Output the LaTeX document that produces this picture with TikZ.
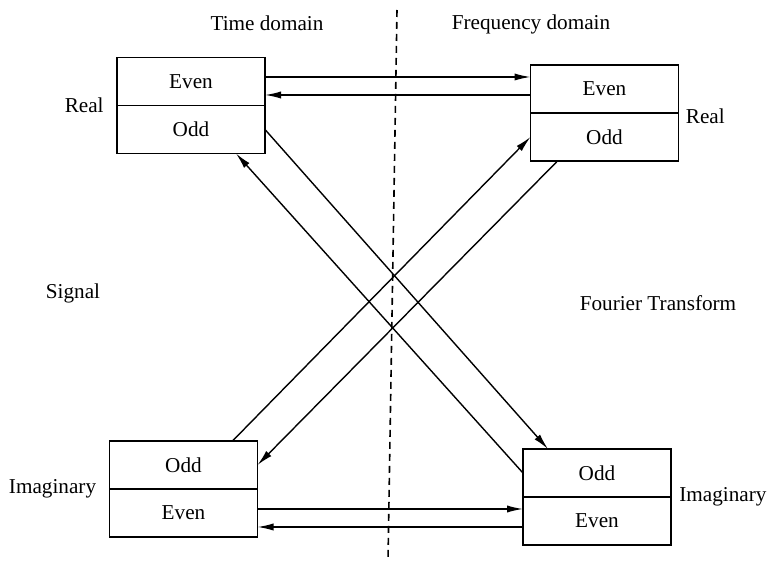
\documentclass[tikz,border=0pt]{standalone}
\usepackage{fontspec}
\setmainfont{Liberation Serif}
\usetikzlibrary{positioning,arrows.meta}

\tikzset{
  cell/.style={draw, line width=0.7pt, minimum width=74pt, minimum height=24pt,
    inner sep=0pt, outer sep=0pt},
  lbl/.style={inner sep=0pt},
  arr/.style={line width=0.7pt, -{Latex[length=8pt,width=3.6pt]}},
  divider/.style={line width=0.8pt, dash pattern=on 3.5pt off 2.5pt}
}

\begin{document}
\begin{tikzpicture}[x=0.5pt, y=-0.5pt, font=\fontsize{10.6}{12.7}\selectfont]
    \useasboundingbox (0,0) rectangle (768,561);

    % the four boxes
    \foreach \n/\x/\y/\p/\q in {tl/191/81.5/Even/Odd, tr/604.5/89/Even/Odd,
                                bl/183.5/465/Odd/Even, br/597/473/Odd/Even} {
      \node[cell] (\n\p) at (\x,\y) {\p};
      \node[cell, below=0pt of \n\p] (\n\q) {\q};
    }

    % headings and side labels
    \node[lbl] (time) at (267,23) {Time domain};
    \node[lbl] (freq) at (531,24) {Frequency domain};
    \node[lbl] (signal) at (73,293) {Signal};
    \node[lbl] (fourier) at (658,303) {Fourier Transform};
    \node[lbl, left=6.5pt of tlEven.south west] (realL) {Real};
    \node[lbl, right=3.5pt of trEven.south east, yshift=-1.5pt] (realR) {Real};
    \node[lbl, left=6.5pt of blOdd.south west] (imagL) {Imaginary};
    \node[lbl, right=4pt of brOdd.south east] (imagR) {Imaginary};

    % dashed divider
    \coordinate (divTop) at (397,10);
    \coordinate (divBot) at (388,561);
    \draw[divider] (divTop) -- (divBot);

    % horizontal pairs
    \draw[arr] (tlEven.east |- 0,77) -- (trEven.west |- 0,77);
    \draw[arr] (trEven.west |- 0,95) -- (tlEven.east |- 0,95);
    \draw[arr] (blEven.east |- 0,509) -- (brEven.west |- 0,509);
    \draw[arr] (brEven.west |- 0,527) -- (blEven.east |- 0,527);

    % crossing arrows
    \draw[arr] (tlOdd.east) -- ([xshift=-24.5pt]brOdd.north);
    \draw[arr] (brOdd.west) -- ([xshift=22.5pt]tlOdd.south);
    \draw[arr] ([xshift=24.5pt]blOdd.north) -- (trOdd.west);
    \draw[arr] ([xshift=-23.5pt]trOdd.south) -- (blOdd.east);
\end{tikzpicture}
\end{document}
